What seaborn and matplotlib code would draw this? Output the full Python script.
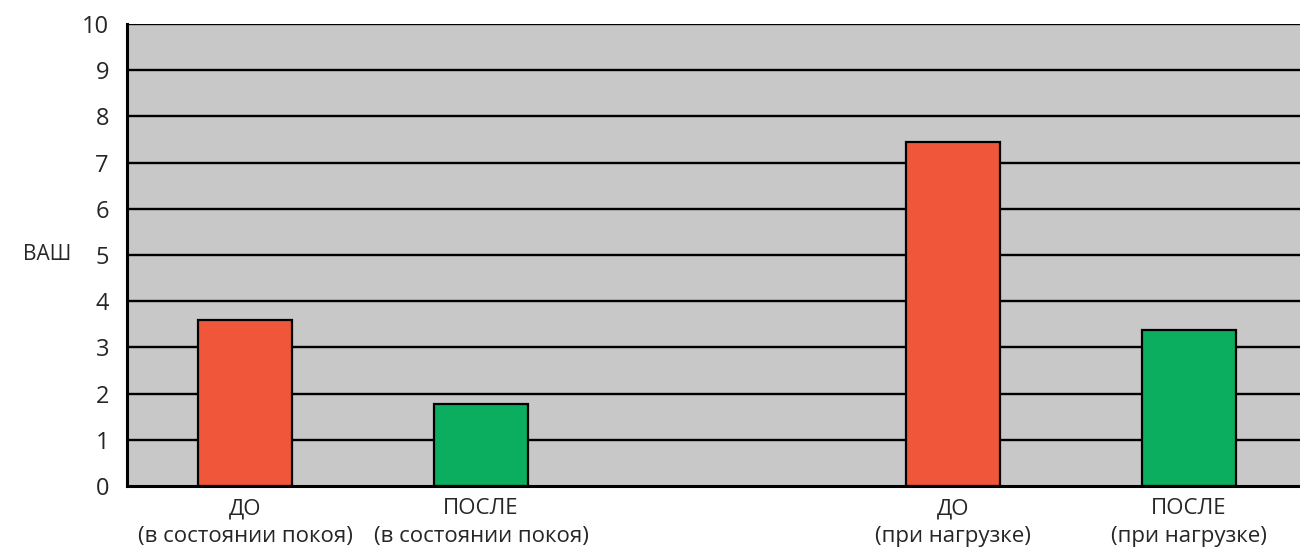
import numpy as np
import pandas as pd
import matplotlib
matplotlib.use("Agg")
import matplotlib.pyplot as plt
import seaborn as sns

# VAS score before / after, at rest and under load
categories = ["ДО\n(в состоянии покоя)", "ПОСЛЕ\n(в состоянии покоя)",
              "ДО\n(при нагрузке)", "ПОСЛЕ\n(при нагрузке)"]
order = [categories[0], categories[1], " ", categories[2], categories[3]]
values = [3.6, 1.78, 7.45, 3.38]
colors = ["#F0573A", "#0BAE5F", "#F0573A", "#0BAE5F"]
y_ticks = list(range(0, 11))

sns.set_style("white")
plt.rcParams['font.family'] = ['Liberation Sans Narrow', 'Open Sans', 'DejaVu Sans']

df = pd.DataFrame({"cat": categories, "vas": values})
pal = dict(zip(categories, colors))

fig = plt.figure(figsize=(13, 5.53), dpi=100)
ax = fig.add_axes([0.0977, 0.1212, 0.9077, 0.8354])
ax.set_facecolor("#C8C8C8")

sns.barplot(data=df, x="cat", y="vas", hue="cat", order=order, palette=pal,
            legend=False, width=0.4, edgecolor="black", linewidth=1.6,
            saturation=1, ax=ax, zorder=3)

ax.set_ylim(0, 10)
ax.set_xlim(-0.5, 4.5)
ax.set_yticks(y_ticks)
ax.set_yticklabels([str(t) for t in y_ticks], fontsize=17)
for t in y_ticks[1:]:
    ax.axhline(t, color="black", lw=1.7, zorder=1)

# tick marks at category boundaries, labels at centres
ax.set_xticks(np.arange(-0.5, 5, 1.0))
ax.set_xticklabels([])
ax.set_xticks(range(len(order)), minor=True)
ax.set_xticklabels(order, minor=True, fontsize=16, linespacing=1.4)
ax.tick_params(axis="x", which="minor", length=0, pad=9)
ax.tick_params(axis="x", which="major", direction="out", length=8, width=2, color="black")
ax.tick_params(axis="y", direction="out", length=9, width=2, color="black", pad=4)

ax.set_xlabel("")
ax.set_ylabel("ВАШ", rotation=0, fontsize=15, labelpad=25, va="center")

for s in ["top", "right"]:
    ax.spines[s].set_visible(False)
for s in ["left", "bottom"]:
    ax.spines[s].set_color("black")
    ax.spines[s].set_linewidth(2.2)
    ax.spines[s].set_zorder(4)

fig.savefig("out.png", dpi=100)
